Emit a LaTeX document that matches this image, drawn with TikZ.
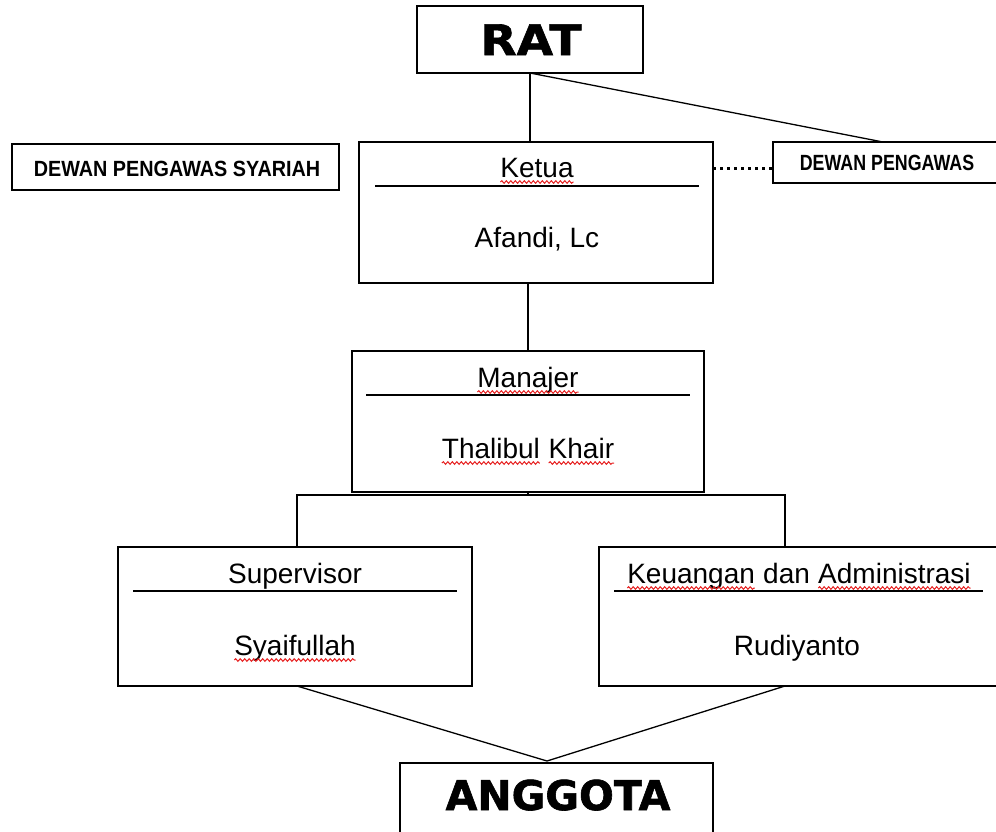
\documentclass[tikz,border=0pt]{standalone}
\usepackage{fontspec}
\setmainfont{Liberation Sans}
\newfontfamily\dpsfont[FakeStretch=0.9]{Liberation Sans}
\newfontfamily\dpfont[FakeStretch=0.81]{Liberation Sans}
\newfontfamily\bigfont[FakeBold=1.5]{DejaVu Sans}
\newfontfamily\bigwfont[FakeBold=1.5,FakeStretch=1.12]{DejaVu Sans}
\usetikzlibrary{decorations.pathmorphing}
\definecolor{wavered}{RGB}{230,30,30}
\tikzset{
 box/.style={draw, line width=1.3pt, inner sep=0pt, outer sep=0pt, rectangle},
 conn/.style={line width=1.3pt},
 dotconn/.style={line width=3pt, dash pattern=on 3pt off 4pt},
 txt/.style={anchor=base, inner sep=0pt, font=\fontsize{28}{32}\selectfont},
 capsA/.style={anchor=base, inner sep=0pt, font=\dpsfont\bfseries\fontsize{22}{25}\selectfont},
 capsB/.style={anchor=base, inner sep=0pt, font=\dpfont\bfseries\fontsize{22}{25}\selectfont},
 big/.style={anchor=base, inner sep=0pt, font=\bigfont\bfseries\fontsize{41}{46}\selectfont},
 bigw/.style={anchor=base, inner sep=0pt, font=\bigwfont\bfseries\fontsize{42}{46}\selectfont},
 sepline/.style={line width=1.3pt},
 wave/.style={draw=wavered, line width=1pt, decorate, decoration={snake, amplitude=1.3pt, segment length=4.5pt}}
}
\newcommand\wavyword[1]{\tikz[baseline=(W.base)]{\node[draw=none,fill=none,anchor=center,inner sep=0pt,outer sep=0pt](W){#1};\draw[wave]([yshift=-5pt]W.base west)--([yshift=-5pt]W.base east);}}
\begin{document}
\begin{tikzpicture}[x=1pt,y=-1pt]
\useasboundingbox (0,0) rectangle (996,831);
\clip (0,0) rectangle (996,831);
% boxes
\node[box, minimum width=226pt, minimum height=67pt] (rat) at (530,39.5) {};
\node[box, minimum width=327pt, minimum height=46pt] (dps) at (175.5,167) {};
\node[box, minimum width=354pt, minimum height=141pt] (ket) at (536,212.5) {};
\node[box, minimum width=228pt, minimum height=41pt] (dp) at (887,162.5) {};
\node[box, minimum width=352pt, minimum height=141pt] (man) at (528,421.5) {};
\node[box, minimum width=354pt, minimum height=139pt] (sup) at (295,616.5) {};
\node[box, minimum width=400pt, minimum height=139pt] (keu) at (799,616.5) {};
\node[box, minimum width=313pt, minimum height=87pt] (ang) at (556.5,806.5) {};
% separators
\draw[sepline] ([xshift=16pt,yshift=-44pt]ket.north west) -- ([xshift=-14pt,yshift=-44pt]ket.north east);
\draw[sepline] ([xshift=14pt,yshift=-44pt]man.north west) -- ([xshift=-14pt,yshift=-44pt]man.north east);
\draw[sepline] ([xshift=15pt,yshift=-44pt]sup.north west) -- ([xshift=-15pt,yshift=-44pt]sup.north east);
\draw[sepline] ([xshift=15pt,yshift=-44pt]keu.north west) -- ([xshift=-16pt,yshift=-44pt]keu.north east);
% texts
\node[bigw] (tRat) at (531,55) {RAT};
\node[capsA] (tDps) at (177,176.5) {DEWAN PENGAWAS SYARIAH};
\node[capsB] (tDp) at (887,170) {DEWAN PENGAWAS};
\node[txt] (tKet) at (537,177) {\wavyword{Ketua}};
\node[txt] (tAf) at (537,247) {Afandi, Lc};
\node[txt] (tMan) at (528,387) {\wavyword{Manajer}};
\node[txt] (tTh) at (528,458) {\wavyword{Thalibul} \wavyword{Khair}};
\node[txt] (tSup) at (295,583) {Supervisor};
\node[txt] (tSy) at (295,655) {\wavyword{Syaifullah}};
\node[txt] (tKeu) at (799,583) {\wavyword{Keuangan} dan \wavyword{Administrasi}};
\node[txt] (tRud) at (797,655) {Rudiyanto};
\node[big] (tAng) at (558,810) {ANGGOTA};
% connectors
\draw[conn] (rat.south) -- (rat.south |- ket.north);
\draw[conn] (rat.south) -- ([xshift=-4pt]dp.north);
\draw[dotconn] (ket.east |- 0,168) -- (dp.west |- 0,168);
\draw[conn] (man.north) -- (man.north |- ket.south);
\coordinate (bl) at (297,495);
\coordinate (brt) at (785,495);
\draw[conn] (man.south) -- (man.south |- bl);
\draw[conn] (sup.north -| bl) -- (bl) -- (brt) -- (keu.north -| brt);
\coordinate (ap) at (547,761);
\draw[conn] (sup.south -| bl) -- (ap) -- (keu.south -| brt);
\end{tikzpicture}
\end{document}
